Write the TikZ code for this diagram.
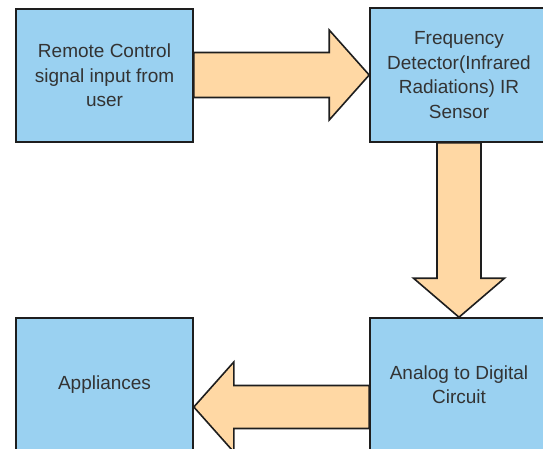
\documentclass[tikz,border=0pt]{standalone}
\usepackage{fontspec}
\setmainfont{Liberation Sans}
\usetikzlibrary{calc,backgrounds}
\definecolor{boxblue}{HTML}{9AD1F1}
\definecolor{fatorange}{HTML}{FFD8A4}
\definecolor{edgecol}{HTML}{1E1E1E}
\definecolor{txtcol}{HTML}{333333}
\tikzset{
  blockbox/.style={draw=edgecol, fill=boxblue, line width=1.6pt, rectangle,
    minimum width=177pt, minimum height=133pt, inner sep=0pt,
    align=center, text=txtcol, font=\fontsize{19}{24.5}\selectfont},
  fatarrow/.style={draw=edgecol, fill=fatorange, line width=1.6pt, line join=miter}
}
\begin{document}
\begin{tikzpicture}[x=1pt,y=-1pt]
\useasboundingbox (0,0) rectangle (543,448);
\clip (0,0) rectangle (543,448);
\node[blockbox] (r) at (104.5,75.5) {Remote Control\\signal input from\\user};
\node[blockbox, minimum width=178pt, minimum height=134pt] (f) at (459,75) {Frequency\\Detector(Infrared\\Radiations) IR\\Sensor};
\node[blockbox, minimum width=178pt] (a) at (459,384.5) {Analog to Digital\\Circuit};
\node[blockbox] (p) at (104.5,384.5) {Appliances};
\begin{scope}[on background layer]
  % right arrow
  \draw[fatarrow] ($(r.east|-f.west)+(0,-22.5)$) -- ($(f.west)+(-40,-22.5)$) -- ($(f.west)+(-40,-45)$)
    -- (f.west) -- ($(f.west)+(-40,45)$) -- ($(f.west)+(-40,22.5)$) -- ($(r.east|-f.west)+(0,22.5)$) -- cycle;
  % down arrow
  \draw[fatarrow] ($(f.south)+(-22,0)$) -- ($(a.north)+(-22,-39)$) -- ($(a.north)+(-45.5,-39)$)
    -- (a.north) -- ($(a.north)+(45.5,-39)$) -- ($(a.north)+(22,-39)$) -- ($(f.south)+(22,0)$) -- cycle;
  % left arrow
  \coordinate (t3) at ($(p.east)+(0,22.5)$);
  \draw[fatarrow] ($(a.west|-t3)+(0,-21.5)$) -- ($(t3)+(40,-21.5)$) -- ($(t3)+(40,-45)$)
    -- (t3) -- ($(t3)+(40,45)$) -- ($(t3)+(40,21.5)$) -- ($(a.west|-t3)+(0,21.5)$) -- cycle;
\end{scope}
\end{tikzpicture}
\end{document}
